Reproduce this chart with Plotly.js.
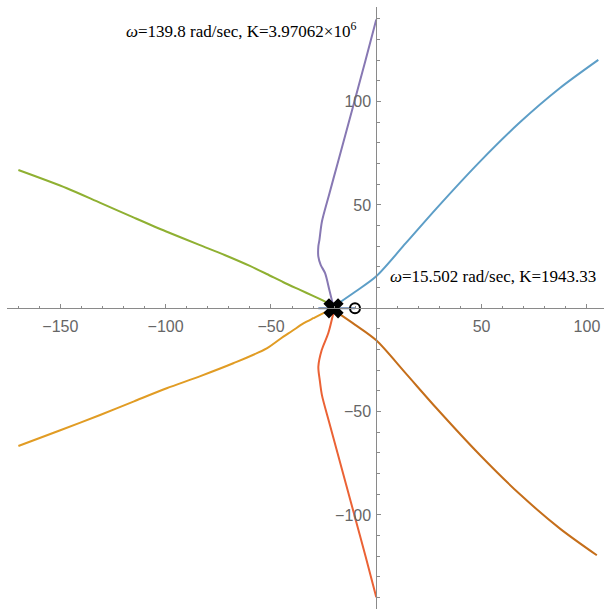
<!DOCTYPE html>
<html>
<head>
<meta charset="utf-8">
<script src="https://cdn.plot.ly/plotly-3.0.1.min.js"></script>
<style>html,body{margin:0;padding:0;background:#fff;}#chart{width:604px;height:609px;}</style>
</head>
<body>
<div id="chart"></div>
<script>
// Branch 1: real-axis segment (pole cluster to zero)
const realSegX = [-27.5, -10.1];
const realSegY = [0, 0];
// Branch 2: orange (lower-left)
const orangeX = [-20.5, -23.5, -29.9, -34.6, -40.0, -44.1, -52.0, -67.9, -83.5, -99.5, -115.0, -131.1, -150.0, -169.9];
const orangeY = [-0.5, -1.6, -4.8, -7.3, -11.0, -13.7, -19.4, -26.6, -32.8, -38.7, -45.0, -51.6, -59.0, -66.6];
// Branch 3: green (upper-left)
const greenX = [-20.5, -24.3, -30.0, -36.2, -44.1, -52.0, -60.0, -72.0, -83.7, -100.0, -115.3, -131.0, -146.9, -169.9];
const greenY = [0.5, 3.2, 6.0, 8.9, 12.6, 16.6, 20.5, 25.8, 30.6, 37.3, 44.0, 51.0, 58.1, 66.9];
// Branch 4: red (lower)
const redX = [-20.4, -22.8, -25.9, -27.5, -26.8, -25.8, -22.4, -18.4, -14.4, -10.4, -5.1, 0.0];
const redY = [-2.4, -12.1, -20.2, -28.3, -35.0, -42.0, -55.0, -70.0, -85.0, -100.0, -120.0, -139.8];
// Branch 5: purple (upper)
const purpleX = [-20.5, -22.3, -24.3, -26.4, -27.5, -27.5, -27.0, -25.8, -22.4, -18.4, -14.4, -10.4, -5.1, 0.0];
const purpleY = [1.5, 9.0, 17.0, 21.0, 25.0, 30.0, 33.0, 42.0, 55.0, 70.0, 85.0, 100.0, 120.0, 139.8];
// Branch 6: brown (lower-right)
const brownX = [-20.0, -10.0, 0.0, 14.0, 28.7, 49.2, 68.2, 87.2, 104.7];
const brownY = [-1.0, -8.0, -15.5, -31.5, -48.5, -71.0, -90.0, -106.6, -119.5];
// Branch 7: light blue (upper-right)
const blueX = [-20.0, -10.0, 0.0, 14.0, 28.7, 49.2, 68.2, 87.2, 105.4];
const blueY = [1.0, 8.0, 15.5, 31.5, 48.5, 71.0, 90.0, 106.6, 120.2];
// Open-loop poles and zero
const poleX = [-20.3];
const poleY = [0];
const zeroX = [-10.1];
const zeroY = [0];
// Ticks
const xTickVals = [-150, -100, -50, 50, 100];
const xTickText = ['\u2212150', '\u2212100', '\u221250', '50', '100'];
const yTickVals = [-100, -50, 50, 100];
const yTickText = ['\u2212100', '\u221250', '50', '100'];
// Annotations
const annotText = ['<i>\u03c9</i>=139.8 rad/sec, K=3.97062\u00d710<sup>6</sup>', '<i>\u03c9</i>=15.502 rad/sec, K=1943.33'];
const annotX = [-64.2, 55.4];
const annotY = [134.7, 15.3];

const xRange = [-175.3, 108.1];
const yRange = [-145.5, 145.8];

function line(x, y, color) {
  return {x: x, y: y, type: 'scatter', mode: 'lines', line: {color: color, width: 2, shape: 'spline', smoothing: 0.8}, hoverinfo: 'skip', showlegend: false};
}

const traces = [
  line(realSegX, realSegY, '#5E81B5'),
  line(orangeX, orangeY, '#E19C24'),
  line(greenX, greenY, '#8FB032'),
  line(redX, redY, '#EB6235'),
  line(purpleX, purpleY, '#8778B3'),
  line(brownX, brownY, '#C56E1A'),
  line(blueX, blueY, '#5D9EC7'),
  {x: poleX, y: poleY, type: 'scatter', mode: 'markers', marker: {symbol: 'x', size: 16, color: '#000', line: {width: 1.5, color: '#000'}}, hoverinfo: 'skip', showlegend: false},
  {x: zeroX, y: zeroY, type: 'scatter', mode: 'markers', marker: {symbol: 'circle-open', size: 10, color: '#000', line: {width: 2, color: '#000'}}, hoverinfo: 'skip', showlegend: false}
];

const axColor = '#8a8a8a';
const tickFont = {family: 'Liberation Sans, Arial, sans-serif', size: 16, color: '#666'};

const layout = {
  width: 604, height: 609,
  margin: {l: 7, r: 0, t: 7, b: 0},
  paper_bgcolor: '#fff', plot_bgcolor: '#fff',
  showlegend: false,
  xaxis: {
    range: xRange, anchor: 'free', position: (0 - yRange[0]) / (yRange[1] - yRange[0]),
    showgrid: false, zeroline: false, showline: true, linecolor: axColor, linewidth: 1,
    tickmode: 'array', tickvals: xTickVals, ticktext: xTickText,
    ticks: 'inside', ticklen: 4, tickcolor: axColor, tickfont: tickFont, ticklabelstandoff: 3,
    minor: {tickmode: 'linear', tick0: 0, dtick: 10, ticks: 'inside', ticklen: 2.5, tickcolor: axColor},
    automargin: false, fixedrange: true
  },
  yaxis: {
    range: yRange, anchor: 'free', position: (0 - xRange[0]) / (xRange[1] - xRange[0]),
    showgrid: false, zeroline: false, showline: true, linecolor: axColor, linewidth: 1,
    tickmode: 'array', tickvals: yTickVals, ticktext: yTickText,
    ticks: 'inside', ticklen: 4, tickcolor: axColor, tickfont: tickFont, ticklabelstandoff: 2,
    minor: {tickmode: 'linear', tick0: 0, dtick: 10, ticks: 'inside', ticklen: 2.5, tickcolor: axColor},
    automargin: false, fixedrange: true
  },
  annotations: annotText.map((t, i) => ({
    x: annotX[i], y: annotY[i], xref: 'x', yref: 'y', text: t, showarrow: false,
    font: {family: 'Liberation Serif, Times New Roman, serif', size: 17, color: '#000'},
    xanchor: 'center', yanchor: 'middle'
  }))
};

Plotly.newPlot('chart', traces, layout, {displayModeBar: false, staticPlot: true});
</script>
</body>
</html>
